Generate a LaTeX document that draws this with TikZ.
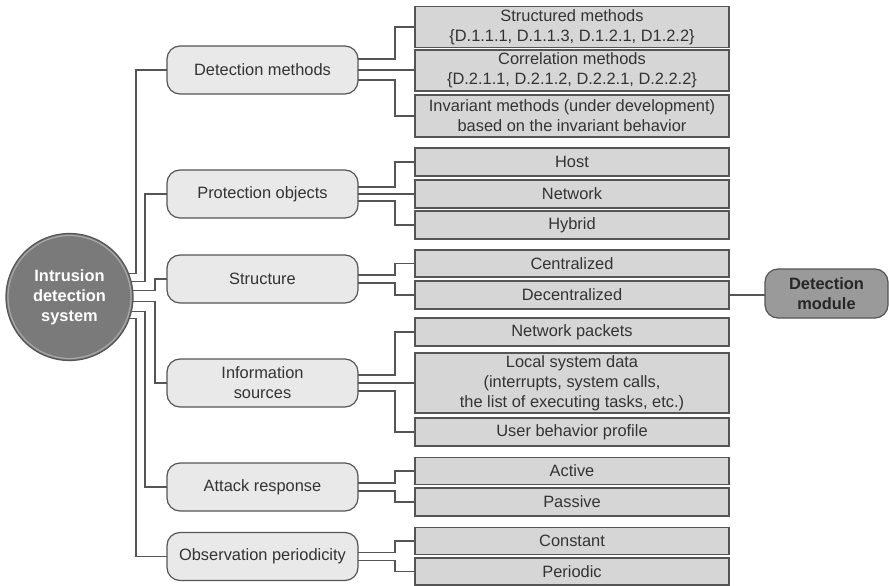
\documentclass[tikz,border=0pt]{standalone}
\usepackage{fontspec}
\setmainfont{Liberation Sans}
\definecolor{textgray}{HTML}{333333}
\definecolor{edgegray}{HTML}{555555}
\definecolor{linkgray}{HTML}{555555}
\definecolor{topicfill}{HTML}{E9E9E9}
\definecolor{itemfill}{HTML}{D6D6D6}
\definecolor{modfill}{HTML}{9A9A9A}
\definecolor{circfill}{HTML}{7A7A7A}
\begin{document}
\begin{tikzpicture}[x=1pt,y=-1pt,
  txt/.style={font=\fontsize{16.4}{19.8}\selectfont, text=textgray, align=center, inner sep=0pt, outer sep=0pt},
  topic/.style={txt, draw=edgegray, line width=1.2pt, fill=topicfill, rounded corners=13pt, minimum width=191pt, minimum height=48pt},
  item/.style={txt, draw=edgegray, line width=1.2pt, fill=itemfill, minimum width=314pt, minimum height=28pt},
  link/.style={draw=linkgray, line width=1.1pt},
]
\useasboundingbox (0,0) rectangle (889,586);

% root
\node[circle, minimum size=127pt, inner sep=0pt, outer sep=0pt, fill=circfill, draw=edgegray, line width=1.2pt,
      font=\bfseries\fontsize{16.4}{19.8}\selectfont, text=white, align=center] (ids) at (69.5,297) {Intrusion\\detection\\system};
\draw[black!35, line width=1.3pt] (ids.center) circle[radius=61.5];

% classification topics
\node[topic] (dm) at (262.5,70)  {Detection methods};
\node[topic] (po) at (262.5,194) {Protection objects};
\node[topic] (st) at (262.5,279) {Structure};
\node[topic] (is) at (262.5,383) {Information\\sources};
\node[topic] (ar) at (262.5,487) {Attack response};
\node[topic] (op) at (262.5,556.5) {Observation periodicity};

% items
\node[item, minimum height=41pt] (sm) at (572,27)  {Structured methods\\\{D.1.1.1, D.1.1.3, D.1.2.1, D1.2.2\}};
\node[item, minimum height=41pt] (cm) at (572,70.5) {Correlation methods\\\{D.2.1.1, D.2.1.2, D.2.2.1, D.2.2.2\}};
\node[item, minimum height=42pt] (im) at (572,116) {Invariant methods (under development)\\based on the invariant behavior};
\node[item] (host) at (572,162) {Host};
\node[item] (net)  at (572,194) {Network};
\node[item] (hyb)  at (572,225) {Hybrid};
\node[item, minimum height=27pt] (cen) at (572,263.5) {Centralized};
\node[item] (dec) at (572,295) {Decentralized};
\node[item] (np)  at (572,332) {Network packets};
\node[item, minimum height=60pt] (lsd) at (572,383) {Local system data\\(interrupts, system calls,\\the list of executing tasks, etc.)};
\node[item] (ubp) at (572,432) {User behavior profile};
\node[item, minimum height=27pt] (act) at (572,471) {Active};
\node[item] (pas) at (572,502) {Passive};
\node[item, minimum height=27pt] (con) at (572,541) {Constant};
\node[item, minimum height=27pt] (per) at (572,571.5) {Periodic};

\node[txt, font=\bfseries\fontsize{16.4}{20.5}\selectfont, text=black!85, draw=edgegray, line width=1.2pt, fill=modfill,
      rounded corners=13pt, minimum width=123pt, minimum height=49pt] (dmod) at (826.5,293.5) {Detection\\module};

% root to topics
\draw[link] (ids.22.4)  -| ([xshift=-31pt]dm.west) -- (dm.west);
\draw[link] (ids.14.3)  -| ([xshift=-22pt]po.west) -- (po.west);
\draw[link] (ids.6)     -| ([xshift=-12pt]st.west) -- (st.west);
\draw[link] (ids.-4.5)  -| ([xshift=-12pt]is.west) -- (is.west);
\draw[link] (ids.-13)   -| ([xshift=-22pt]ar.west) -- (ar.west);
\draw[link] (ids.-20.8) -| ([xshift=-31pt]op.west) -- (op.west);

% topics to items
\draw[link] ([yshift=11pt]dm.east) -| ([xshift=-20pt]sm.west) -- (sm.west);
\draw[link] (dm.east) -- (dm.east -| cm.west);
\draw[link] ([yshift=-10pt]dm.east) -| ([xshift=-20pt]im.west) -- (im.west);

\draw[link] ([yshift=7pt]po.east) -| ([xshift=-20pt]host.west) -- (host.west);
\draw[link] (po.east) -- (net.west);
\draw[link] ([yshift=-7pt]po.east) -| ([xshift=-20pt]hyb.west) -- (hyb.west);

\draw[link] ([yshift=4pt]st.east) -| ([xshift=-20pt]cen.west) -- (cen.west);
\draw[link] ([yshift=-4pt]st.east) -| ([xshift=-20pt]dec.west) -- (dec.west);

\draw[link] ([yshift=8pt]is.east) -| ([xshift=-20pt]np.west) -- (np.west);
\draw[link] (is.east) -- (lsd.west);
\draw[link] ([yshift=-8pt]is.east) -| ([xshift=-20pt]ubp.west) -- (ubp.west);

\draw[link] ([yshift=4pt]ar.east) -| ([xshift=-20pt]act.west) -- (act.west);
\draw[link] ([yshift=-4pt]ar.east) -| ([xshift=-20pt]pas.west) -- (pas.west);

\draw[link] ([yshift=4pt]op.east) -| ([xshift=-20pt]con.west) -- (con.west);
\draw[link] ([yshift=-4pt]op.east) -| ([xshift=-20pt]per.west) -- (per.west);

% structure item to module
\draw[link] (dec.east) -- (dec.east -| dmod.west);
\end{tikzpicture}
\end{document}
